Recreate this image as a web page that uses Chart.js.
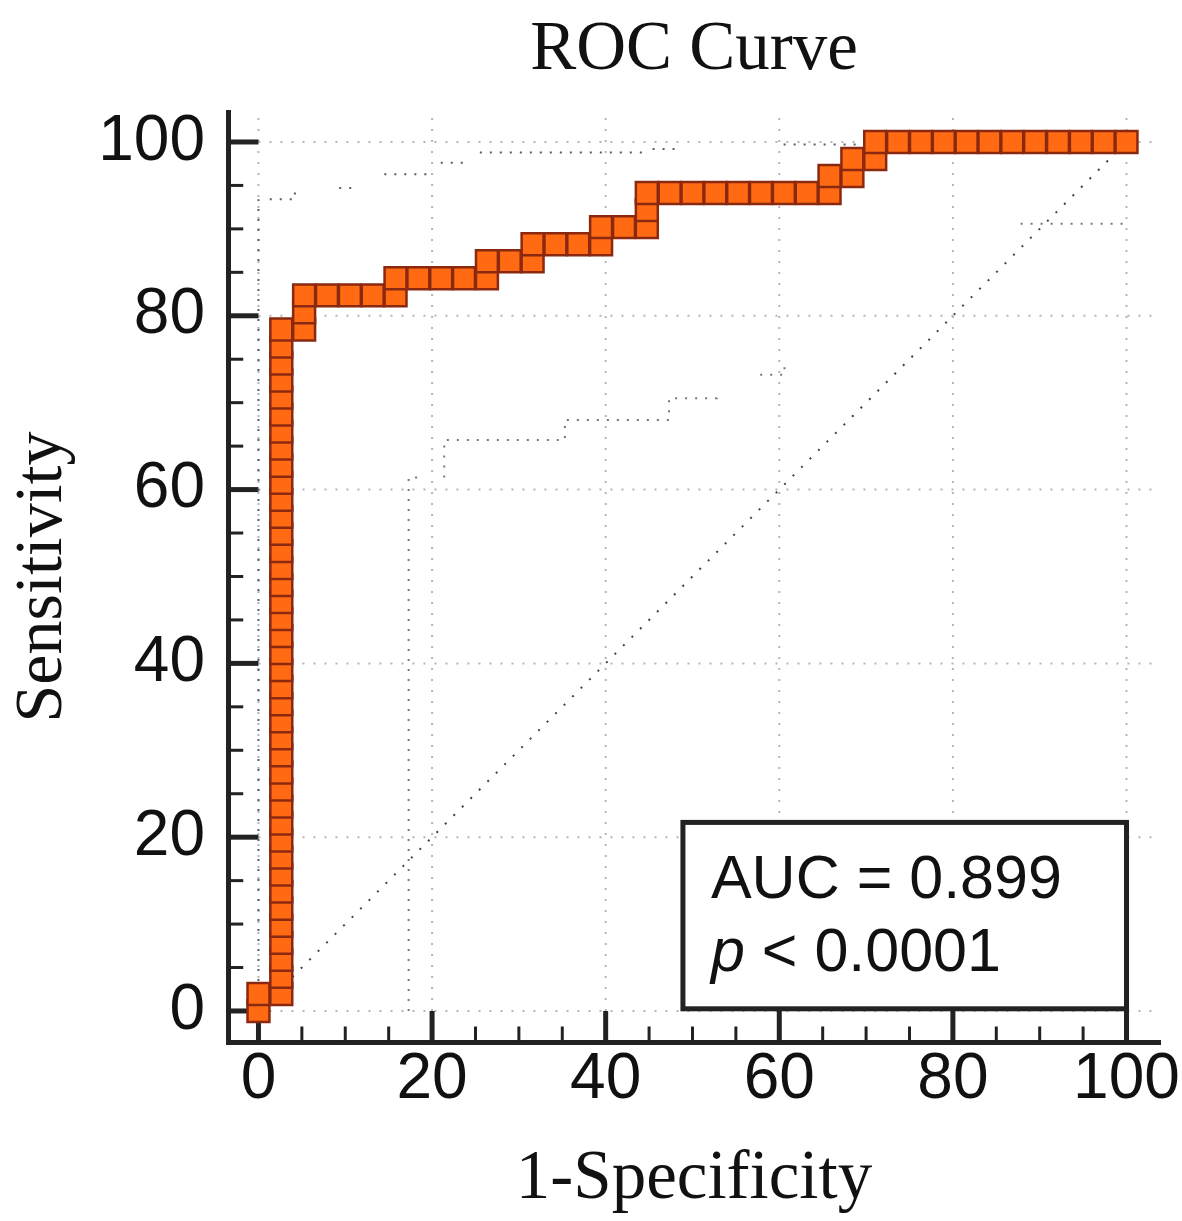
<!DOCTYPE html>
<html>
<head>
<meta charset="utf-8">
<script src="https://cdn.jsdelivr.net/npm/chart.js@4.4.1/dist/chart.umd.min.js"></script>
<style>
  html, body { margin: 0; padding: 0; background: #fff; }
  #wrap { width: 1182px; height: 1221px; }
</style>
</head>
<body>
<div id="wrap"><canvas id="roc" width="1182" height="1221"></canvas></div>
<script>
// ROC points: 1-specificity (x) and sensitivity (y), in %
const rocFpr = [0, 0,
  2.63, 2.63, 2.63, 2.63, 2.63, 2.63, 2.63, 2.63, 2.63, 2.63,
  2.63, 2.63, 2.63, 2.63, 2.63, 2.63, 2.63, 2.63, 2.63, 2.63,
  2.63, 2.63, 2.63, 2.63, 2.63, 2.63, 2.63, 2.63, 2.63, 2.63,
  2.63, 2.63, 2.63, 2.63, 2.63, 2.63, 2.63, 2.63, 2.63, 2.63,
  5.26, 5.26, 5.26,
  7.89, 10.53, 13.16, 15.79, 15.79,
  18.42, 21.05, 23.68, 26.32, 26.32,
  28.95, 31.58, 31.58,
  34.21, 36.84, 39.47, 39.47,
  42.11, 44.74, 44.74, 44.74,
  47.37, 50, 52.63, 55.26, 57.89, 60.53, 63.16, 65.79, 65.79,
  68.42, 68.42,
  71.05, 71.05,
  73.68, 76.32, 78.95, 81.58, 84.21, 86.84, 89.47, 92.11, 94.74, 97.37, 100];
const rocSens = [0, 1.96,
  1.96, 3.92, 5.88, 7.84, 9.80, 11.76, 13.73, 15.69, 17.65, 19.61,
  21.57, 23.53, 25.49, 27.45, 29.41, 31.37, 33.33, 35.29, 37.25, 39.22,
  41.18, 43.14, 45.10, 47.06, 49.02, 50.98, 52.94, 54.90, 56.86, 58.82,
  60.78, 62.75, 64.71, 66.67, 68.63, 70.59, 72.55, 74.51, 76.47, 78.43,
  78.43, 80.39, 82.35,
  82.35, 82.35, 82.35, 82.35, 84.31,
  84.31, 84.31, 84.31, 84.31, 86.27,
  86.27, 86.27, 88.24,
  88.24, 88.24, 88.24, 90.20,
  90.20, 90.20, 92.16, 94.12,
  94.12, 94.12, 94.12, 94.12, 94.12, 94.12, 94.12, 94.12, 96.08,
  96.08, 98.04,
  98.04, 100,
  100, 100, 100, 100, 100, 100, 100, 100, 100, 100, 100];

// reference (chance) diagonal
const diagX = [0, 100];
const diagY = [0, 100];

// faint leftovers of the confidence bands (null = gap)
const upperBandX = [0, 0, null, 1.3, 4.2, 4.2, null, 9.3, 10.8, null, 14.5, 20, null, 21, 24.3, null, 25.5, 44.7, null, 45.4, 48.5, null, 60.5, 69];
const upperBandY = [0, 93.4, null, 93.4, 93.4, 94.4, null, 94.7, 94.7, null, 96.3, 96.3, null, 97.6, 97.6, null, 98.8, 98.8, null, 99.2, 99.2, null, 99.7, 99.7];
const lowerBandX = [17.3, 17.3, 19, null, 21.4, 21.4, 35.3, 35.3, 47.3, 47.3, 52.8, 52.8, null, 57.8, 60.6, 60.6, null, 87.8, 100];
const lowerBandY = [0, 61.4, 61.4, null, 61.4, 65.7, 65.7, 68, 68, 70.5, 70.5, 71, null, 73.2, 73.2, 75, null, 90.6, 90.6];

const majorTicks = [0, 20, 40, 60, 80, 100];
const minorTicks = [5, 10, 15, 25, 30, 35, 45, 50, 55, 65, 70, 75, 85, 90, 95];

const aucText = 'AUC = 0.899';
const pText = '< 0.0001';

const serif = '"Liberation Serif", "Times New Roman", serif';
const sans = '"Liberation Sans", Arial, sans-serif';

function pts(xs, ys) {
  return xs.map((x, i) => (x === null ? { x: null, y: null } : { x: x, y: ys[i] }));
}

const rocDecor = {
  id: 'rocDecor',
  beforeDatasetsDraw(chart) {
    const { ctx, chartArea: a, scales: { x, y } } = chart;
    const x0 = x.getPixelForValue(0);
    const y0 = y.getPixelForValue(0);
    ctx.save();
    // dotted grid
    ctx.strokeStyle = '#b5b5b5';
    ctx.lineWidth = 2;
    ctx.setLineDash([2, 9]);
    majorTicks.forEach(v => {
      const px = x.getPixelForValue(v);
      ctx.beginPath(); ctx.moveTo(px, y0); ctx.lineTo(px, a.top + 4); ctx.stroke();
      const py = y.getPixelForValue(v);
      ctx.beginPath(); ctx.moveTo(x0, py); ctx.lineTo(a.right - 4, py); ctx.stroke();
    });
    ctx.setLineDash([]);
    // inward tick marks
    ctx.strokeStyle = '#222';
    ctx.lineWidth = 5;
    majorTicks.forEach(v => {
      const py = y.getPixelForValue(v);
      ctx.beginPath(); ctx.moveTo(a.left, py); ctx.lineTo(x0, py); ctx.stroke();
      const px = x.getPixelForValue(v);
      ctx.beginPath(); ctx.moveTo(px, a.bottom); ctx.lineTo(px, y0); ctx.stroke();
    });
    ctx.lineWidth = 3;
    minorTicks.forEach(v => {
      const py = y.getPixelForValue(v);
      ctx.beginPath(); ctx.moveTo(a.left, py); ctx.lineTo(a.left + (x0 - a.left) / 2, py); ctx.stroke();
      const px = x.getPixelForValue(v);
      ctx.beginPath(); ctx.moveTo(px, a.bottom); ctx.lineTo(px, a.bottom - (a.bottom - y0) / 2); ctx.stroke();
    });
    ctx.restore();
  },
  afterDatasetsDraw(chart) {
    const { ctx, scales: { x, y } } = chart;
    const left = x.getPixelForValue(48.9);
    const right = x.getPixelForValue(100);
    const top = y.getPixelForValue(21.7);
    const bottom = y.getPixelForValue(0.25);
    ctx.save();
    ctx.fillStyle = '#fff';
    ctx.fillRect(left, top, right - left, bottom - top);
    ctx.strokeStyle = '#222';
    ctx.lineWidth = 5;
    ctx.strokeRect(left, top, right - left, bottom - top);
    ctx.fillStyle = '#111';
    ctx.textBaseline = 'alphabetic';
    ctx.textAlign = 'left';
    ctx.font = '61px ' + sans;
    ctx.fillText(aucText, left + 28, top + 76);
    ctx.font = 'italic 61px ' + sans;
    ctx.fillText('p', left + 28, top + 149);
    const pw = ctx.measureText('p ').width;
    ctx.font = '61px ' + sans;
    ctx.fillText(pText, left + 28 + pw, top + 149);
    ctx.restore();
  }
};

const tickFont = { family: sans, size: 64 };

new Chart(document.getElementById('roc'), {
  type: 'line',
  data: {
    datasets: [
      {
        data: pts(rocFpr, rocSens),
        borderColor: '#8e2410',
        borderWidth: 2,
        tension: 0,
        pointStyle: 'rect',
        pointRadius: 15.5,
        pointBackgroundColor: '#ff6a12',
        pointBorderColor: '#8a2810',
        pointBorderWidth: 2.5
      },
      {
        data: pts(diagX, diagY),
        borderColor: '#444',
        borderWidth: 2,
        borderDash: [2, 10],
        pointRadius: 0
      },
      {
        data: pts(upperBandX, upperBandY),
        borderColor: '#5a5a6a',
        borderWidth: 2,
        borderDash: [2, 8],
        pointRadius: 0,
        spanGaps: false
      },
      {
        data: pts(lowerBandX, lowerBandY),
        borderColor: '#777',
        borderWidth: 2,
        borderDash: [2, 8],
        pointRadius: 0,
        spanGaps: false
      }
    ]
  },
  options: {
    responsive: false,
    animation: false,
    devicePixelRatio: 1,
    events: [],
    layout: { padding: { left: 0, right: 22, top: 0, bottom: 0 } },
    plugins: {
      legend: { display: false },
      tooltip: { enabled: false },
      title: {
        display: true,
        text: 'ROC Curve',
        fullSize: false,
        color: '#111',
        font: { family: serif, size: 69, weight: 'normal' },
        padding: { top: 9, bottom: 20.2 }
      }
    },
    scales: {
      x: {
        type: 'linear',
        min: -3.51,
        max: 103.86,
        afterFit: s => { s.height = 179; },
        afterBuildTicks: s => { s.ticks = majorTicks.map(v => ({ value: v })); },
        grid: { display: false, drawTicks: false },
        border: { display: true, width: 5, color: '#222' },
        ticks: { font: tickFont, color: '#111', padding: 0, maxRotation: 0, autoSkip: false },
        title: {
          display: true,
          text: '1-Specificity',
          color: '#111',
          font: { family: serif, size: 69 },
          padding: { top: 0, bottom: 0 }
        }
      },
      y: {
        type: 'linear',
        min: -3.57,
        max: 103.45,
        afterFit: s => { s.width = 228; },
        afterBuildTicks: s => { s.ticks = majorTicks.map(v => ({ value: v })); },
        grid: { display: false, drawTicks: false },
        border: { display: true, width: 5, color: '#222' },
        ticks: { font: tickFont, color: '#111', padding: 23, autoSkip: false },
        title: {
          display: true,
          text: 'Sensitivity',
          color: '#111',
          font: { family: serif, size: 68 },
          padding: { top: 2, bottom: 0 }
        }
      }
    }
  },
  plugins: [rocDecor]
});
</script>
</body>
</html>
